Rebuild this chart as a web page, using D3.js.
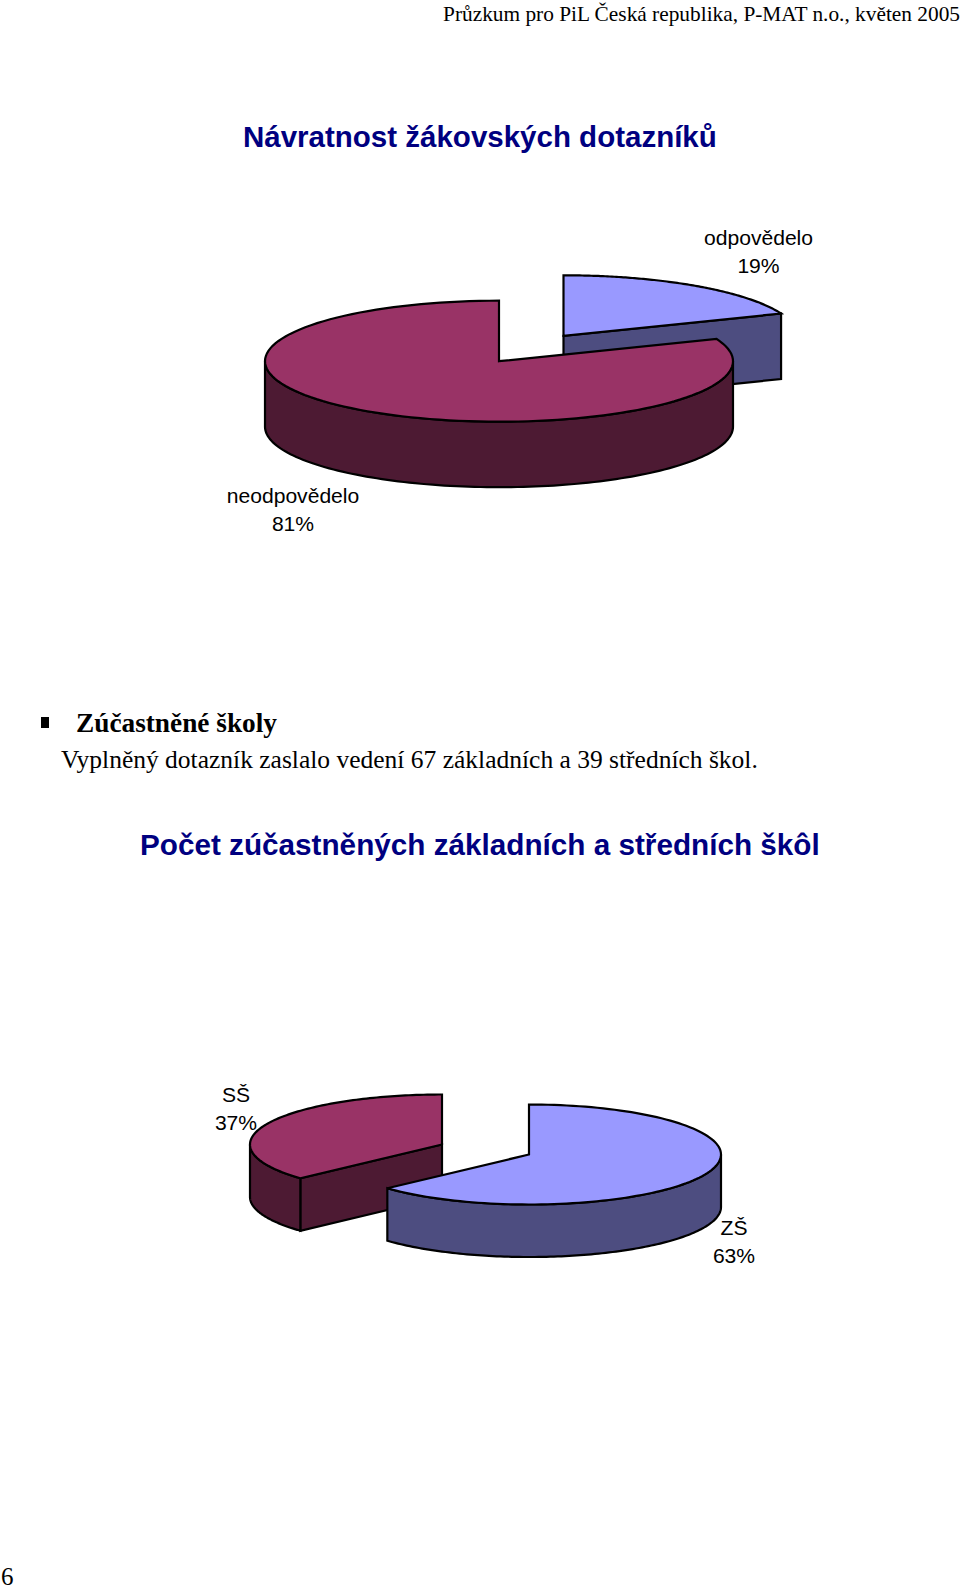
<!DOCTYPE html>
<html><head><meta charset="utf-8">
<script src="https://cdnjs.cloudflare.com/ajax/libs/d3/7.8.5/d3.min.js"></script>
<style>html,body{margin:0;padding:0;background:#fff}svg{display:block}
text{white-space:pre}</style></head><body>
<svg id="c" width="960" height="1591"></svg>
<script>
const returnCategories = ["odpovědelo","neodpovědelo"];
const returnValues = [19,81];
const returnLabels = ["19%","81%"];
const schoolCategories = ["ZŠ","SŠ"];
const schoolValues = [67,39];
const schoolLabels = ["63%","37%"];

const BLUE={top:"#9999ff",side:"#4d4d80"}, RED={top:"#993366",side:"#4d1a33"};
const svg=d3.select("#c");

function drawPie(cfg){
  const arcs=d3.pie().sort(null).value(d=>d)(cfg.values);
  const sx=d3.scaleLinear().domain([-1,1]).range([-cfg.rx,cfg.rx]);
  const sy=d3.scaleLinear().domain([-1,1]).range([-cfg.ry,cfg.ry]);
  const pt=(a,c,dz=0)=>[c[0]+sx(Math.sin(a)),c[1]-sy(Math.cos(a))+dz];
  const line=d3.line();
  const samp=(a0,a1)=>d3.range(0,121).map(i=>a0+(a1-a0)*i/120);
  cfg.order.forEach(i=>{
    const s=arcs[i], c=[cfg.cx+cfg.off[i][0],cfg.cy+cfg.off[i][1]], col=cfg.colors[i];
    const g=svg.append("g").attr("stroke","#000").attr("stroke-width",2.2).attr("stroke-linejoin","miter");
    // the one radial cut face that looks towards the viewer
    if(cfg.cut && cfg.cut[0]===i){
      const p=pt(s[cfg.cut[1]],c);
      g.append("path").attr("fill",col.side)
        .attr("d",line([c,p,[p[0],p[1]+cfg.depth],[c[0],c[1]+cfg.depth]])+"Z");
    }
    // outer wall: the lower half of the ellipse only
    const w0=Math.max(s.startAngle,Math.PI/2), w1=Math.min(s.endAngle,Math.PI*1.5);
    if(w1>w0){
      const A=samp(w0,w1);
      g.append("path").attr("fill",col.side)
        .attr("d",line(A.map(a=>pt(a,c)).concat(A.slice().reverse().map(a=>pt(a,c,cfg.depth))))+"Z");
    }
    // top face
    g.append("path").attr("fill",col.top)
      .attr("d",line([c].concat(samp(s.startAngle,s.endAngle).map(a=>pt(a,c))))+"Z");
  });
}

drawPie({values:returnValues,cx:499,cy:361.2,rx:234,ry:60.5,depth:65.5,
  off:[[64.5,-25.4],[0,0]],colors:[BLUE,RED],order:[0,1],cut:[0,"endAngle"]});
drawPie({values:schoolValues,cx:529,cy:1154.5,rx:192,ry:50,depth:52.5,
  off:[[0,0],[-87,-10]],colors:[BLUE,RED],order:[1,0],cut:[1,"startAngle"]});

function txt(s,x,y,size,opt={}){
  return svg.append("text").attr("x",x).attr("y",y).attr("font-size",size)
    .attr("font-family",opt.family||"'Liberation Sans'")
    .attr("font-weight",opt.bold?"bold":"normal").attr("fill",opt.fill||"#000")
    .attr("text-anchor",opt.anchor||"start").text(s);
}
const SERIF="'Liberation Serif'";
txt("Průzkum pro PiL Česká republika, P-MAT n.o., květen 2005",960,21,21.35,{family:SERIF,anchor:"end"});
txt("Návratnost žákovských dotazníků",243,147,29.5,{bold:true,fill:"#000080"});
txt(returnCategories[0],758.5,245,21.1,{anchor:"middle"});
txt(returnLabels[0],758.5,273,21.1,{anchor:"middle"});
txt(returnCategories[1],293,503,21.1,{anchor:"middle"});
txt(returnLabels[1],293,530.5,21.1,{anchor:"middle"});
svg.append("rect").attr("x",41).attr("y",717).attr("width",8).attr("height",11).attr("fill","#000");
txt("Zúčastněné školy",76,732,27.3,{family:SERIF,bold:true});
txt("Vyplněný dotazník zaslalo vedení 67 základních a 39 středních škol.",61,767.5,25.5,{family:SERIF});
txt("Počet zúčastněných základních a středních škôl",140,855,29.7,{bold:true,fill:"#000080"});
txt(schoolCategories[1],236,1102,21.1,{anchor:"middle"});
txt(schoolLabels[1],236,1129.5,21.1,{anchor:"middle"});
txt(schoolCategories[0],734,1235,21.1,{anchor:"middle"});
txt(schoolLabels[0],734,1263,21.1,{anchor:"middle"});
txt("6",1,1585,25,{family:SERIF});
</script></body></html>
